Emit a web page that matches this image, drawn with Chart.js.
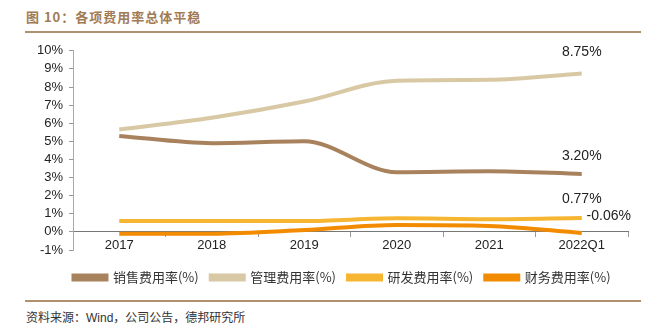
<!DOCTYPE html>
<html>
<head>
<meta charset="utf-8">
<script src="https://cdn.jsdelivr.net/npm/chart.js@4"></script>
<style>
  body { margin: 0; background: #fff; width: 653px; height: 325px; position: relative; overflow: hidden;
         font-family: "Liberation Sans", "Noto Sans CJK SC", sans-serif; }
  #title { position: absolute; left: 26px; top: 7px; font-size: 13px; font-weight: bold; color: #a27b55;
           font-family: "Noto Sans CJK SC", sans-serif; letter-spacing: 1px; }
  .rule { position: absolute; left: 25px; width: 616px; height: 2px; background: #b0906e; }
  #source { position: absolute; left: 26px; top: 308px; font-size: 12px; color: #333;
            font-family: "Liberation Sans", "Noto Sans CJK SC", sans-serif; }
  #wrap { position: absolute; left: 0; top: 37px; width: 653px; height: 255px; }
</style>
</head>
<body>
<div id="title">图 10：各项费用率总体平稳</div>
<div class="rule" style="top:31px"></div>
<div id="wrap"><canvas id="chart"></canvas></div>
<div class="rule" style="top:300px"></div>
<div id="source">资料来源：Wind，公司公告，德邦研究所</div>
<script>
const categories = ['2017', '2018', '2019', '2020', '2021', '2022Q1'];
const sellingRate = [5.3, 4.9, 5.0, 3.3, 3.35, 3.20];
const adminRate = [5.65, 6.3, 7.2, 8.35, 8.4, 8.75];
const rdRate = [0.6, 0.6, 0.6, 0.75, 0.7, 0.77];
const financeRate = [-0.1, -0.1, 0.1, 0.38, 0.33, -0.06];
const seriesNames = ['销售费用率(%)', '管理费用率(%)', '研发费用率(%)', '财务费用率(%)'];
const seriesColors = ['#a8825d', '#d8c8a4', '#f6b632', '#f28b00'];
// where each end label goes, relative to the last point
const endLabelOffsets = [[0, -18], [0, -21], [0, -19], [27, -17]];

const makeSet = (i, data) => ({
    label: seriesNames[i],
    data: data,
    borderColor: seriesColors[i],
    backgroundColor: seriesColors[i],
    borderWidth: 4,
    pointRadius: 0,
    tension: 0.4,
    cubicInterpolationMode: 'monotone'
});

const endLabels = {
    id: 'endLabels',
    afterDatasetsDraw(chart) {
        const ctx = chart.ctx;
        ctx.save();
        ctx.font = '14px "Liberation Sans", Arial, sans-serif';
        ctx.fillStyle = '#222';
        ctx.textAlign = 'center';
        ctx.textBaseline = 'middle';
        chart.data.datasets.forEach((ds, i) => {
            const meta = chart.getDatasetMeta(i);
            const last = meta.data[meta.data.length - 1];
            const v = ds.data[ds.data.length - 1];
            const off = endLabelOffsets[i];
            ctx.fillText(v.toFixed(2) + '%', last.x + off[0], last.y + off[1]);
        });
        ctx.restore();
    }
};

// nudge the legend, it sits off-centre in the original
const legendShift = {
    id: 'legendShift',
    afterLayout(chart) {
        if (chart.legend) {
            chart.legend.left += 28;
            chart.legend.right += 28;
            chart.legend.top += 9;
            chart.legend.bottom += 9;
        }
    }
};

new Chart(document.getElementById('chart').getContext('2d'), {
    type: 'line',
    data: {
        labels: categories,
        datasets: [
            makeSet(0, sellingRate),
            makeSet(1, adminRate),
            makeSet(2, rdRate),
            makeSet(3, financeRate)
        ]
    },
    options: {
        responsive: true,
        maintainAspectRatio: false,
        animation: false,
        layout: { padding: { top: 7, right: 25, left: 0, bottom: 7 } },
        plugins: {
            legend: {
                position: 'bottom',
                labels: {
                    boxWidth: 33,
                    boxHeight: 4,
                    padding: 12,
                    color: '#333',
                    font: { size: 13, family: '"Noto Sans CJK SC", "Liberation Sans", sans-serif' }
                }
            },
            tooltip: { enabled: false }
        },
        scales: {
            x: {
                position: { y: 0 },
                offset: true,
                grid: { drawOnChartArea: false, offset: true, tickLength: 5, color: '#999' },
                border: { color: '#777' },
                ticks: { color: '#222', font: { size: 13, family: '"Liberation Sans", Arial' }, padding: 1 }
            },
            y: {
                min: -1,
                max: 10,
                afterFit(scale) { scale.width = 73; },
                grid: { drawOnChartArea: false, tickLength: 4, color: '#999' },
                border: { color: '#aaa' },
                ticks: {
                    stepSize: 1,
                    color: '#222',
                    padding: 6,
                    font: { size: 13, family: '"Liberation Sans", Arial' },
                    callback: v => v + '%'
                }
            }
        }
    },
    plugins: [endLabels, legendShift]
});
</script>
</body>
</html>
